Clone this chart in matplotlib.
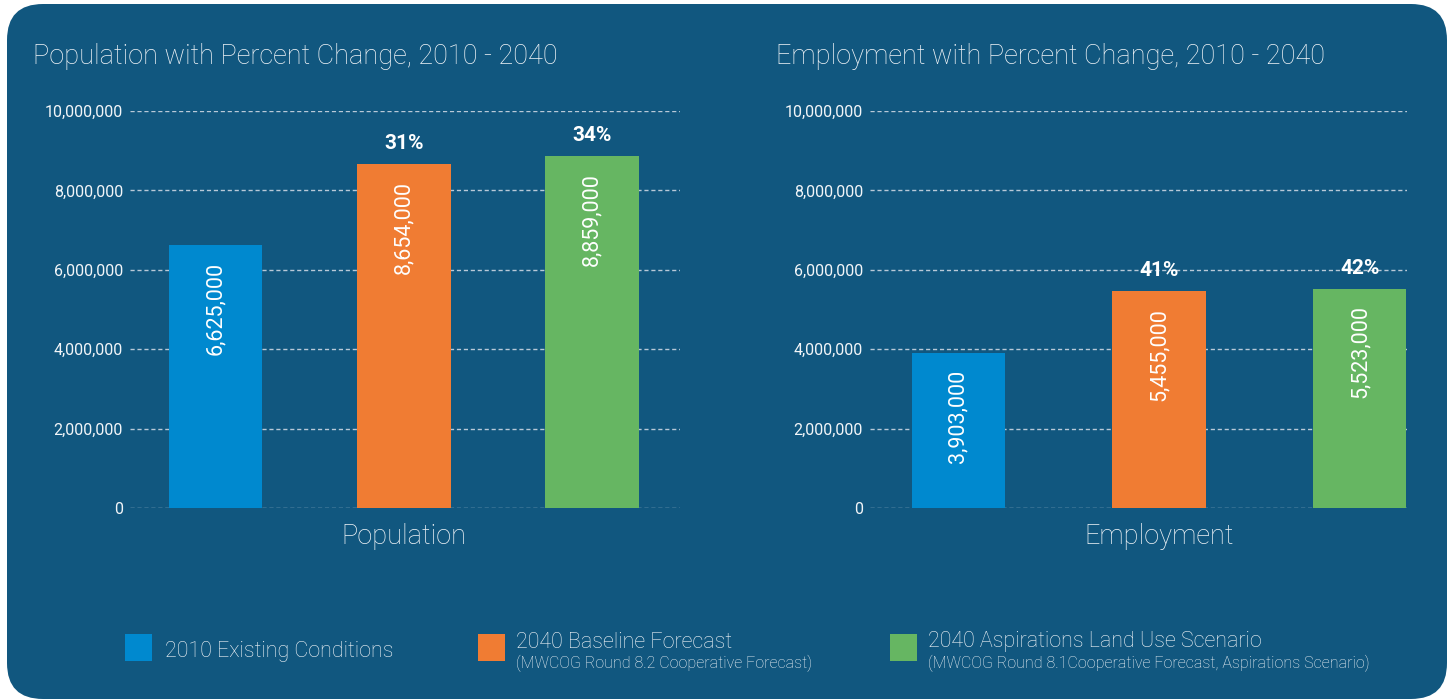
import matplotlib
matplotlib.use("Agg")
import matplotlib.pyplot as plt
from matplotlib.patches import FancyBboxPatch, Rectangle
from matplotlib.transforms import IdentityTransform, blended_transform_factory

# Values for the two panels
scenarios = ["2010 Existing Conditions", "2040 Baseline Forecast", "2040 Aspirations Land Use Scenario"]
scenario_notes = ["", "(MWCOG Round 8.2 Cooperative Forecast)",
                  "(MWCOG Round 8.1Cooperative Forecast, Aspirations Scenario)"]
population = [6625000, 8654000, 8859000]
population_pct = [None, "31%", "34%"]
employment = [3903000, 5455000, 5523000]
employment_pct = [None, "41%", "42%"]
y_ticks = [0, 2000000, 4000000, 6000000, 8000000, 10000000]

bg = "#11577f"
colors = ["#0089cf", "#f07c33", "#66b662"]
txt = "#f2f5f8"
grid_col = "#b9c9d8"

plt.rcParams["font.family"] = ["Roboto", "DejaVu Sans"]

W, H = 1453, 700
fig = plt.figure(figsize=(W / 100, H / 100), dpi=100)
fig.patch.set_facecolor("white")

# Rounded dark panel behind everything
panel = FancyBboxPatch((7, 1), 1440, 695, boxstyle="round,pad=0,rounding_size=36",
                       transform=IdentityTransform(), facecolor=bg, edgecolor="none", zorder=0)
fig.add_artist(panel)


def px_axes(x0, x1, y_top, y_bot):
    return fig.add_axes([x0 / W, 1 - y_bot / H, (x1 - x0) / W, (y_bot - y_top) / H])


def draw_panel(ax, values, pcts, title, xlabel, width, xlim, title_x):
    ax.set_facecolor("none")
    ax.set_xlim(*xlim)
    ax.set_ylim(0, 10000000)
    for s in ax.spines.values():
        s.set_visible(False)
    ax.set_yticks(y_ticks)
    ax.set_yticklabels([f"{v:,}" for v in y_ticks], color=txt, fontsize=11.5)
    ax.tick_params(axis="y", length=0, pad=5)
    ax.set_xticks([])
    ax.grid(axis="y", color=grid_col, linestyle=(0, (3, 2)), linewidth=1)
    ax.set_axisbelow(True)

    xs = range(len(values))
    ax.bar(xs, values, width=width, color=colors, zorder=3)
    for x, v, p in zip(xs, values, pcts):
        ax.annotate(f"{v:,}", (x, v), xytext=(0, -12), textcoords="offset points",
                    rotation=90, ha="center", va="top", color="white", fontsize=15.5, zorder=4)
        if p:
            ax.annotate(p, (x, v), xytext=(0, 8), textcoords="offset points",
                        ha="center", va="bottom", color="white", fontsize=15,
                        fontweight="bold", zorder=4)

    # category label sits under the middle bar
    trans = blended_transform_factory(ax.transData, ax.transAxes)
    ax.text(1, -0.072, xlabel, transform=trans, color=txt, fontsize=19.5,
            fontweight="light", ha="center", va="center")
    fig.text(title_x / W, 1 - 57 / H, title, color=txt, fontsize=19.5, fontweight="light",
             va="center", ha="left")


ax1 = px_axes(130, 680, 111, 508)
draw_panel(ax1, population, population_pct, "Population with Percent Change, 2010 - 2040",
           "Population", 0.495, (-0.457, 2.468), 33)

ax2 = px_axes(870, 1407, 111, 508)
draw_panel(ax2, employment, employment_pct, "Employment with Percent Change, 2010 - 2040",
           "Employment", 0.463, (-0.438, 2.234), 776)

# Legend along the bottom
legend_x = [125, 478, 890]
for lx, c, name, note in zip(legend_x, colors, scenarios, scenario_notes):
    fig.add_artist(Rectangle((lx / W, 1 - 661 / H), 27 / W, 27 / H, transform=fig.transFigure,
                             facecolor=c, edgecolor="none"))
    if note:
        fig.text((lx + 38) / W, 1 - 642 / H, name, color=txt, fontsize=15.5,
                 fontweight="light", va="center", ha="left")
        fig.text((lx + 38) / W, 1 - 663 / H, note, color=txt, fontsize=11.5,
                 fontweight="light", va="center", ha="left")
    else:
        fig.text((lx + 40) / W, 1 - 652 / H, name, color=txt, fontsize=15.5,
                 fontweight="light", va="center", ha="left")

fig.savefig("out.png", dpi=100, facecolor=fig.get_facecolor())
